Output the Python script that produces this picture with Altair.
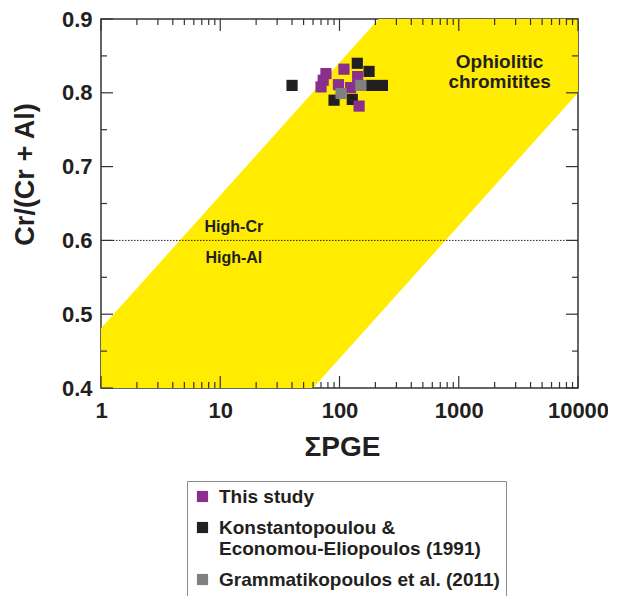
import altair as alt
import pandas as pd

# ---------------- data ----------------
series_names = ["This study",
                "Konstantopoulou & Economou-Eliopoulos (1991)",
                "Grammatikopoulos et al. (2011)"]
series_colors = ["#8B2F8E", "#231F20", "#808080"]

this_x = [109, 142, 77, 73, 70, 98, 124, 146]
this_y = [0.832, 0.822, 0.826, 0.817, 0.808, 0.811, 0.807, 0.782]
kon_x = [40, 141, 177, 186, 229, 90, 128]
kon_y = [0.810, 0.840, 0.829, 0.810, 0.810, 0.790, 0.791]
gram_x = [151, 103]
gram_y = [0.810, 0.799]

band_x = [1, 60, 213, 10000]
band_upper = [0.481, 0.801, 0.9, 0.9]
band_lower = [0.4, 0.4, 0.499, 0.8]

divider_y = [0.6]

ann_text = ["High-Cr", "High-Al"]
ann_x = [13.0, 13.0]
ann_y = [0.6176, 0.5757]

zone_text = ["Ophiolitic", "chromitites"]
zone_x = [2200, 2200]
zone_y = [0.842, 0.815]

x_major = [1, 10, 100, 1000, 10000]
x_minor = [m * 10 ** k for k in range(4) for m in range(2, 10)]
y_major = [0.4, 0.5, 0.6, 0.7, 0.8, 0.9]
y_minor = [0.45, 0.55, 0.65, 0.75, 0.85]

W, H = 477, 369
INK = "#231F20"
FONT = "Liberation Sans"

# ---------------- tables ----------------
pts = pd.DataFrame({
    "x": kon_x + this_x + gram_x,
    "y": kon_y + this_y + gram_y,
    "src": [series_names[1]] * len(kon_x) + [series_names[0]] * len(this_x) + [series_names[2]] * len(gram_x),
})
band = pd.DataFrame({"x": band_x, "y": band_upper, "y2": band_lower})
div = pd.DataFrame({"y": divider_y})
ann = pd.DataFrame({"t": ann_text, "x": ann_x, "y": ann_y})
zone = pd.DataFrame({"t": zone_text, "x": zone_x, "y": zone_y})
xmaj = pd.DataFrame({"x": x_major})
xmin = pd.DataFrame({"x": x_minor})
ymaj = pd.DataFrame({"y": y_major})
ymin = pd.DataFrame({"y": y_minor})

xs = alt.Scale(type="log", domain=[1, 10000], nice=False)
ys = alt.Scale(domain=[0.4, 0.9], nice=False, zero=False)

x_axis = alt.Axis(values=x_major, format="d", title="ΣPGE", labelFontSize=22,
                  labelFontWeight="bold", labelColor=INK, labelPadding=12,
                  labelFlush=False, labelOverlap=False,
                  titleFontSize=28, titleFontWeight="bold", titleColor=INK,
                  titleX=241, titleY=59, titleBaseline="middle", titleAlign="center")
y_axis = alt.Axis(values=y_major, format=".1f", title="Cr/(Cr + Al)", labelFontSize=22,
                  labelFontWeight="bold", labelColor=INK, labelPadding=9,
                  labelFlush=False, labelOverlap=False,
                  titleFontSize=27, titleFontWeight="bold", titleColor=INK,
                  titleX=-76, titleY=155, titleBaseline="middle", titleAlign="center",
                  titleAngle=-90)

X = lambda f: alt.X(f, scale=xs, axis=x_axis, title="ΣPGE")
Y = lambda f: alt.Y(f, scale=ys, axis=y_axis, title="Cr/(Cr + Al)")

area = alt.Chart(band).mark_area(color="#FFEC00", opacity=1).encode(
    x=X("x:Q"), y=Y("y:Q"), y2="y2:Q",
)

rule = alt.Chart(div).mark_rule(color=INK, strokeWidth=1, strokeDash=[1.5, 1.5]).encode(
    y=Y("y:Q"), x=alt.value(0), x2=alt.value(W),
)

points = alt.Chart(pts).mark_square(size=125, opacity=1).encode(
    x=X("x:Q"), y=Y("y:Q"),
    color=alt.Color("src:N", scale=alt.Scale(domain=series_names, range=series_colors),
                    legend=alt.Legend(
                        title=None, orient="none", legendX=86, legendY=462,
                        direction="vertical",
                        labelExpr="datum.label == 'Konstantopoulou & Economou-Eliopoulos (1991)' ? ['Konstantopoulou &', 'Economou-Eliopoulos (1991)'] : datum.label",
                        labelFont=FONT, labelFontSize=19, labelFontWeight="bold",
                        labelColor=INK, labelLimit=500, labelOffset=7,
                        symbolType="square", symbolSize=125, symbolStrokeWidth=0,
                        symbolOpacity=1, rowPadding=11, padding=6,
                        strokeColor="#8C8C8C", fillColor="white")),
)

ann_layer = alt.Chart(ann).mark_text(font=FONT, fontSize=16, fontWeight="bold", color=INK,
                                     align="center", baseline="middle").encode(
    x=X("x:Q"), y=Y("y:Q"), text="t:N")

zone_layer = alt.Chart(zone).mark_text(font=FONT, fontSize=19, fontWeight="bold", color=INK,
                                       align="center", baseline="middle").encode(
    x=X("x:Q"), y=Y("y:Q"), text="t:N")

tick_style = dict(color="#333333", strokeWidth=1.2)

def xticks(df, length):
    bottom = alt.Chart(df).mark_rule(**tick_style).encode(
        x=X("x:Q"), y=alt.value(H), y2=alt.value(H - length))
    top = alt.Chart(df).mark_rule(**tick_style).encode(
        x=X("x:Q"), y=alt.value(0), y2=alt.value(length))
    return [bottom, top]

def yticks(df, length):
    left = alt.Chart(df).mark_rule(**tick_style).encode(
        y=Y("y:Q"), x=alt.value(0), x2=alt.value(length))
    right = alt.Chart(df).mark_rule(**tick_style).encode(
        y=Y("y:Q"), x=alt.value(W), x2=alt.value(W - length))
    return [left, right]

ticks = xticks(xmaj, 12) + xticks(xmin, 6) + yticks(ymaj, 12) + yticks(ymin, 6)

chart = alt.layer(area, rule, ann_layer, zone_layer, *ticks, points).properties(
    width=W, height=H,
    autosize=alt.AutoSizeParams(type="none"),
    padding={"left": 93, "top": 11, "right": 30, "bottom": 208},
).configure(font=FONT).configure_view(
    stroke="#333333", strokeWidth=1.5
).configure_axis(grid=False, domain=False, ticks=False)

chart.save("out.html", embed_options={"renderer": "svg", "actions": False})
